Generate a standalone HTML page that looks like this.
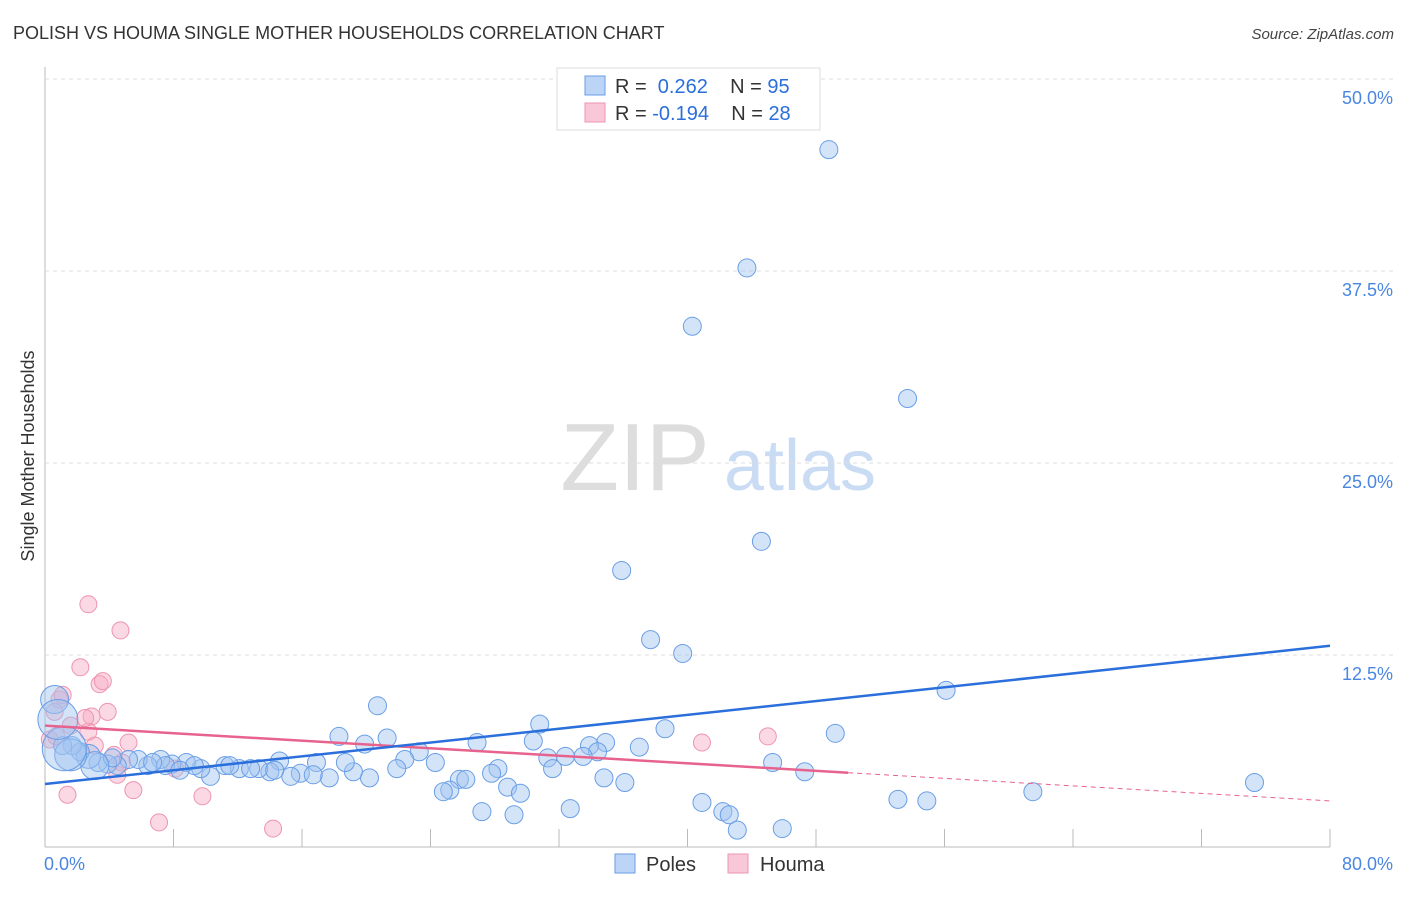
<!DOCTYPE html>
<html><head><meta charset="utf-8"><style>
body{margin:0;background:#fff;font-family:"Liberation Sans",sans-serif;}
svg text{font-family:"Liberation Sans",sans-serif;}
</style></head><body>
<svg id="c" width="1406" height="892" xmlns="http://www.w3.org/2000/svg">
<text x="13" y="39" font-size="18" fill="#333">POLISH VS HOUMA SINGLE MOTHER HOUSEHOLDS CORRELATION CHART</text>
<text x="1394" y="39" font-size="15" fill="#444" font-style="italic" text-anchor="end">Source: ZipAtlas.com</text>
<text x="34" y="456" font-size="18" fill="#333" text-anchor="middle" transform="rotate(-90 34 456)">Single Mother Households</text>
<g><text x="635" y="490" font-size="96" fill="#ddd" font-family="Liberation Serif" text-anchor="middle">ZIP</text><text x="800" y="490" font-size="72" fill="#c9dcf3" text-anchor="middle">atlas</text></g>
<g id="grid"></g><g id="marks"></g>
<g>
<rect x="557" y="68" width="263" height="62" fill="#fff" stroke="#ddd"/>
<rect x="585" y="76" width="20" height="19" fill="#bcd4f5" stroke="#6a9ee6"/>
<rect x="585" y="103" width="20" height="19" fill="#f9c8d8" stroke="#ee94b0"/>
<text x="615" y="93" font-size="20" fill="#333">R = <tspan fill="#2a6fdb">&#160;0.262</tspan>&#160;&#160;&#160; N = <tspan fill="#2a6fdb">95</tspan></text>
<text x="615" y="120" font-size="20" fill="#333">R = <tspan fill="#2a6fdb">-0.194</tspan>&#160;&#160;&#160; N = <tspan fill="#2a6fdb">28</tspan></text>
</g>
<g>
<rect x="615" y="854" width="20" height="19" fill="#bcd4f5" stroke="#6a9ee6"/><text x="646" y="871" font-size="20" fill="#333">Poles</text>
<rect x="728" y="854" width="20" height="19" fill="#f9c8d8" stroke="#ee94b0"/><text x="760" y="871" font-size="20" fill="#333">Houma</text>
</g>
</svg>
<script>
const yTicks=[12.5,25,37.5,50];
const xTickLabels=["0.0%","80.0%"];
const polesX=[48.8,43.7,40.3,53.7,44.6,35.9,37.7,39.7,56.1,20.7,30.8,38.6,49.2,18.3,21.3,19.9,26.9,30.4,34.9,33.9,23.3,22.4,34.4,32.4,37.0,33.5,31.3,24.3,28.2,31.6,45.3,21.9,20.2,19.2,17.7,16.9,18.7,14.6,15.9,15.3,14.0,13.3,12.1,11.2,10.3,9.7,8.8,7.9,7.2,6.4,5.8,5.2,4.5,3.9,3.3,2.7,2.2,1.7,1.1,0.6,34.8,36.1,25.8,26.2,27.8,28.8,29.6,25.2,24.8,47.3,27.2,29.2,32.7,40.9,42.2,42.6,43.1,45.9,53.1,54.9,61.5,75.3,16.7,14.3,11.5,12.8,9.3,7.5,8.4,6.7,4.2,3.1,1.6,1.2,0.8];
const polesY=[45.4,37.7,33.9,29.2,19.9,18.0,13.5,12.6,10.2,9.2,8.0,7.7,7.4,7.2,7.1,6.7,6.8,6.9,6.8,6.6,6.2,5.7,6.2,5.9,6.5,5.9,5.8,5.5,5.1,5.1,5.5,5.1,4.5,4.9,4.5,5.5,5.5,5.6,4.8,4.6,4.9,5.1,5.1,5.3,4.6,5.1,5.5,5.4,5.7,5.3,5.7,5.7,5.3,5.4,5.5,5.9,6.2,6.6,6.6,9.6,4.5,4.2,4.4,4.4,4.8,3.9,3.5,3.7,3.6,4.9,2.3,2.1,2.5,2.9,2.3,2.1,1.1,1.2,3.1,3.0,3.6,4.2,4.7,5.0,5.3,5.1,5.3,5.3,5.0,5.5,5.8,5.3,6.0,6.4,8.3];
const polesR=[];for(let i=0;i<polesX.length;i++)polesR.push(9);
polesR[59]=14;polesR[93]=22;polesR[94]=20;polesR[91]=14;polesR[92]=16;polesR[55]=12;
const houmaX=[2.7,4.7,2.2,3.4,3.6,2.9,3.9,2.7,1.4,7.1,9.8,14.2,5.5,5.2,4.5,4.3,0.9,1.1,0.6,0.3,0.7,1.6,2.5,40.9,45.0,3.1,8.1,4.8];
const houmaY=[15.8,14.1,11.7,10.6,10.8,8.5,8.8,7.5,3.4,1.6,3.3,1.2,3.7,6.8,4.7,6.0,9.6,9.9,8.8,7.0,7.2,7.9,8.4,6.8,7.2,6.6,5.1,5.5];
const polesTrend=[4.1,13.1];
const houmaTrend=[7.9,3.0];
const houmaSolidEnd=50;
const X0=45,X1=1330,Y0=847,Y50=79;
const sx=v=>X0+v/80*(X1-X0), sy=v=>Y0-v/50*(Y0-Y50);
const NS="http://www.w3.org/2000/svg";
function mk(t,a,p){const e=document.createElementNS(NS,t);for(const k in a)e.setAttribute(k,a[k]);p.appendChild(e);return e;}
const g=document.getElementById('grid'),m=document.getElementById('marks');
mk('line',{x1:X0,y1:67,x2:X0,y2:Y0,stroke:'#bbb'},g);
mk('line',{x1:X0,y1:Y0,x2:X1,y2:Y0,stroke:'#bbb'},g);
for(let i=1;i<=10;i++){const l=mk('line',{x1:sx(i*8),y1:Y0-18,x2:sx(i*8),y2:Y0,stroke:'#bbb'},g);}
yTicks.forEach(v=>{const l=mk('line',{x1:X0,y1:sy(v),x2:1393,y2:sy(v),stroke:'#ddd','stroke-dasharray':'4,4'},g);

const t=mk('text',{x:1393,y:sy(v)+25,'font-size':18,fill:'#4a86e0','text-anchor':'end'},g);t.textContent=v.toFixed(1)+'%';
});
xTickLabels.forEach((s,i)=>{const t=mk('text',{x:i?1393:44,y:870,'font-size':18,fill:'#4a86e0','text-anchor':i?'end':'start'},g);t.textContent=s;
});
houmaX.forEach((x,i)=>{const c=mk('circle',{cx:sx(x),cy:sy(houmaY[i]),r:8.5,fill:'rgba(246,170,195,0.45)',stroke:'#ee94b0','stroke-width':1},m);
});
polesX.forEach((x,i)=>{const c=mk('circle',{cx:sx(x),cy:sy(polesY[i]),r:polesR[i],fill:'rgba(160,195,240,0.45)',stroke:'#6a9ee6','stroke-width':1},m);
});
const hy=x=>houmaTrend[0]+(houmaTrend[1]-houmaTrend[0])*x/80;
let l=mk('line',{x1:sx(0),y1:sy(hy(0)),x2:sx(houmaSolidEnd),y2:sy(hy(houmaSolidEnd)),stroke:'#e8628e','stroke-width':2.5},m);

l=mk('line',{x1:sx(houmaSolidEnd),y1:sy(hy(houmaSolidEnd)),x2:sx(80),y2:sy(hy(80)),stroke:'#e8628e','stroke-width':1,'stroke-dasharray':'5,4'},m);

l=mk('line',{x1:sx(0),y1:sy(polesTrend[0]),x2:sx(80),y2:sy(polesTrend[1]),stroke:'#2a6fdb','stroke-width':2.5},m);

</script>
</body></html>
